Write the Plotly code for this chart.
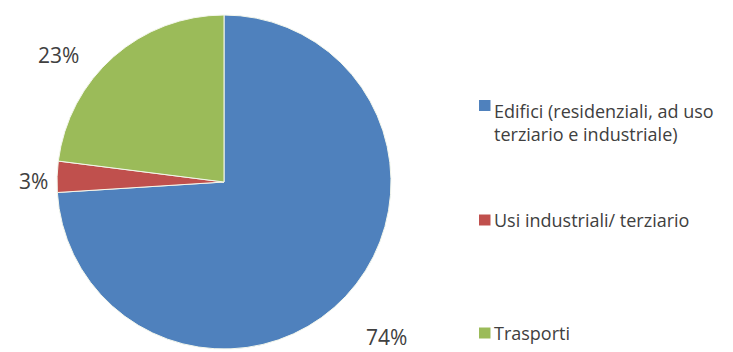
import plotly.graph_objects as go

W, H = 733, 352

labels = ["Edifici (residenziali, ad uso terziario e industriale)",
          "Usi industriali/ terziario",
          "Trasporti"]
legend_text = ["Edifici (residenziali, ad uso<br>terziario e industriale)",
               "Usi industriali/ terziario",
               "Trasporti"]
values = [74, 3, 23]
colors = ["#4F81BD", "#C0504D", "#9BBB59"]
pct_text = ["74%", "3%", "23%"]

def px(x):
    return x / W

def py(y):
    return 1 - y / H

fig = go.Figure(go.Pie(
    labels=labels, values=values, sort=False, direction="clockwise",
    rotation=0, textinfo="none", hoverinfo="label+percent",
    marker=dict(colors=colors, line=dict(color="#F4F7EC", width=1)),
    domain=dict(x=[px(57), px(391)], y=[py(349), py(15)]),
    showlegend=False,
))

# percent labels
pct_pos = [(386, 337), (33, 181), (58, 55)]
for t, (x, y) in zip(pct_text, pct_pos):
    fig.add_annotation(text=t, x=px(x), y=py(y), xref="paper", yref="paper",
                       showarrow=False, xanchor="center", yanchor="middle",
                       font=dict(family="Open Sans", size=21, color="#404040"))

# legend
leg_y = [105.5, 220, 333]
text_y = [122, 220, 333]
for i, (t, c) in enumerate(zip(legend_text, colors)):
    y = leg_y[i]
    fig.add_shape(type="rect", xref="paper", yref="paper",
                  x0=px(479), x1=px(490.5), y0=py(y + 5.5), y1=py(y - 5.5),
                  fillcolor=c, line=dict(width=0))
    fig.add_annotation(text=t, x=px(492), y=py(text_y[i]), xref="paper", yref="paper",
                       showarrow=False, xanchor="left", yanchor="middle", align="left",
                       font=dict(family="Open Sans", size=18, color="#404040"))

fig.update_layout(width=W, height=H, margin=dict(l=0, r=0, t=0, b=0),
                  paper_bgcolor="white", plot_bgcolor="white")
fig.write_html("out.html")
